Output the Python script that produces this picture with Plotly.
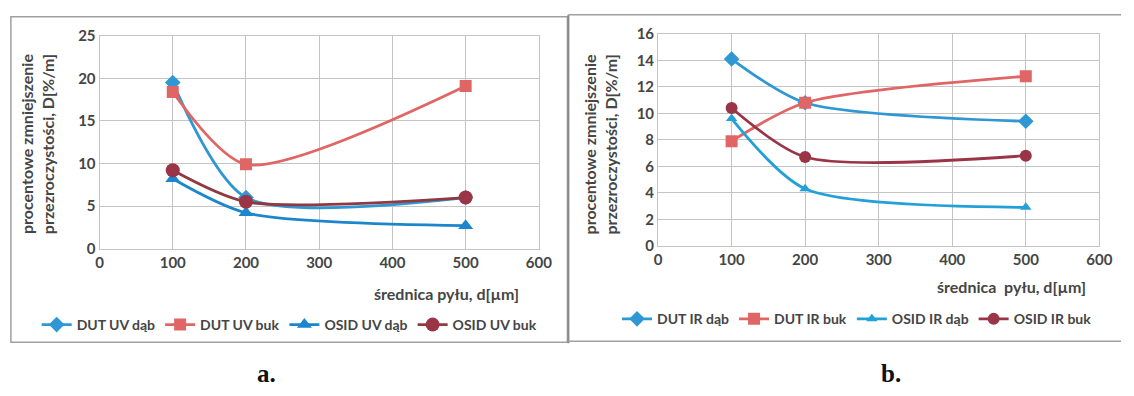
import plotly.graph_objects as go

# Particle diameters [µm]
diam = [100, 200, 500]

# Panel a: UV detection
uv_dut_dab = [19.5, 6.0, 6.0]
uv_dut_buk = [18.4, 9.9, 19.1]
uv_osid_dab = [8.2, 4.2, 2.7]
uv_osid_buk = [9.2, 5.5, 6.0]

# Panel b: IR detection
ir_dut_dab = [14.1, 10.8, 9.4]
ir_dut_buk = [7.9, 10.8, 12.8]
ir_osid_dab = [9.6, 4.3, 2.9]
ir_osid_buk = [10.4, 6.7, 6.8]

x_ticks = [0, 100, 200, 300, 400, 500, 600]
ya_ticks = [0, 5, 10, 15, 20, 25]
yb_ticks = [0, 2, 4, 6, 8, 10, 12, 14, 16]

C_DAB = "#2f97d3"
C_BUK = "#e06565"
C_ODAB = "#1b86cc"
C_OBUK = "#9a3447"
C_OBUK_LINE = "#8e3a40"
TXT = "#454545"
GRID = "#c4c4c4"
FONT = "Lato"
WEIGHT = 700

W, H = 1134, 396


def px_x(p):
    return p / W


def px_y(p):
    return 1 - p / H


fig = go.Figure()


def add(x, y, name, color, symbol, size, xa, ya, legend, lcolor=None):
    fig.add_trace(go.Scatter(
        x=x, y=y, name=name, mode="lines+markers",
        line=dict(color=lcolor or color, width=2.8, shape="spline", smoothing=0.75),
        marker=dict(color=color, symbol=symbol, size=size),
        xaxis=xa, yaxis=ya, legend=legend,
    ))


add(diam, uv_dut_dab, "DUT UV dąb", C_DAB, "diamond", 12, "x", "y", "legend")
add(diam, uv_dut_buk, "DUT UV buk", C_BUK, "square", 12, "x", "y", "legend")
add(diam, uv_osid_dab, "OSID UV dąb", C_ODAB, "triangle-up", 13, "x", "y", "legend")
add(diam, uv_osid_buk, "OSID UV buk", C_OBUK, "circle", 14, "x", "y", "legend", C_OBUK_LINE)

add(diam, ir_dut_dab, "DUT IR dąb", C_DAB, "diamond", 12, "x2", "y2", "legend2")
add(diam, ir_dut_buk, "DUT IR buk", C_BUK, "square", 12, "x2", "y2", "legend2")
add(diam, ir_osid_dab, "OSID IR dąb", "#23a0d8", "triangle-up", 10, "x2", "y2", "legend2")
add(diam, ir_osid_buk, "OSID IR buk", C_OBUK, "circle", 12, "x2", "y2", "legend2")

tickfont = dict(family=FONT, size=15, color=TXT, weight=WEIGHT)
axis_common = dict(
    showgrid=True, gridcolor=GRID, gridwidth=1,
    showline=True, linecolor=GRID, linewidth=1, mirror=True,
    zeroline=False, ticks="", tickfont=tickfont,
)
legfont = dict(family=FONT, size=14, color=TXT, weight=WEIGHT)

fig.update_layout(
    width=W, height=H,
    margin=dict(l=0, r=0, t=0, b=0),
    paper_bgcolor="white", plot_bgcolor="white",
    font=dict(family=FONT, color=TXT),
    xaxis=dict(domain=[px_x(97), px_x(543)], range=[0, 600], tickvals=x_ticks,
               anchor="y", **axis_common),
    yaxis=dict(domain=[px_y(250), px_y(27)], range=[0, 25], tickvals=ya_ticks,
               anchor="x", **axis_common),
    xaxis2=dict(domain=[px_x(664), px_x(1112)], range=[0, 600], tickvals=x_ticks,
                anchor="y2", **axis_common),
    yaxis2=dict(domain=[px_y(247), px_y(25)], range=[0, 16], tickvals=yb_ticks,
                anchor="x2", **axis_common),
    legend=dict(orientation="h", x=px_x(290), y=px_y(330), xanchor="center",
                yanchor="middle", font=legfont,
                bgcolor="rgba(0,0,0,0)", itemwidth=30, tracegroupgap=0),
    legend2=dict(orientation="h", x=px_x(866), y=px_y(324), xanchor="center",
                 yanchor="middle", font=legfont,
                 bgcolor="rgba(0,0,0,0)", itemwidth=30, tracegroupgap=0),
    showlegend=True,
)

# Panel frames
frame = dict(color="#8a8a8a", width=2)
fig.add_shape(type="rect", xref="paper", yref="paper",
              x0=px_x(7), x1=px_x(572), y0=px_y(348), y1=px_y(7),
              line=dict(color="#a0a0a0", width=1.5))
fig.add_shape(type="line", xref="paper", yref="paper",
              x0=px_x(573), x1=px_x(573), y0=px_y(349), y1=px_y(5), line=frame)
fig.add_shape(type="line", xref="paper", yref="paper",
              x0=px_x(573), x1=1, y0=px_y(5), y1=px_y(5),
              line=dict(color="#a0a0a0", width=1.5))
fig.add_shape(type="line", xref="paper", yref="paper",
              x0=px_x(573), x1=1, y0=px_y(347), y1=px_y(347),
              line=dict(color="#a0a0a0", width=1.5))

ytitle = "procentowe zmniejszenie<br>przezroczystości, D[%/m]"
annots = [
    dict(text=ytitle, x=px_x(33), y=px_y(140), textangle=-90, size=16),
    dict(text=ytitle, x=px_x(605), y=px_y(140), textangle=-90, size=16),
    dict(text="średnica pyłu, d[µm]", x=px_x(449), y=px_y(297), size=16),
    dict(text="średnica  pyłu, d[µm]", x=px_x(1023), y=px_y(290), size=16),
]
for a in annots:
    size = a.pop("size")
    fig.add_annotation(xref="paper", yref="paper", showarrow=False,
                       xanchor="center", yanchor="middle",
                       font=dict(family=FONT, size=size, color=TXT, weight=WEIGHT), **a)

fig.add_annotation(text="<b>a.</b>", xref="paper", yref="paper", showarrow=False,
                   x=px_x(266), y=px_y(381), xanchor="center", yanchor="middle",
                   font=dict(family="Liberation Serif", size=25, color="#111111"))
fig.add_annotation(text="<b>b.</b>", xref="paper", yref="paper", showarrow=False,
                   x=px_x(901), y=px_y(381), xanchor="center", yanchor="middle",
                   font=dict(family="Liberation Serif", size=25, color="#111111"))

fig.write_html("out.html")
